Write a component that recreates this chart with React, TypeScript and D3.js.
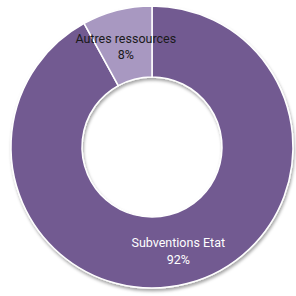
import React from "react";
import * as d3 from "d3";

const categories = ["Subventions Etat", "Autres ressources"];
const values = [92, 8];
const percentLabels = ["92%", "8%"];
const colors = ["#725a91", "#a898c1"];
const labelColors = ["#ffffff", "#1a1a1a"];

export default function App() {
  const width = 296;
  const height = 296;
  const cx = 152;
  const cy = 147;
  const outerRadius = 141;
  const innerRadius = 70;

  const pie = d3
    .pie<number>()
    .value((d) => d)
    .sort(null);
  const arcs = pie(values);
  const arc = d3
    .arc<d3.PieArcDatum<number>>()
    .innerRadius(innerRadius)
    .outerRadius(outerRadius);

  return (
    <svg
      width={width}
      height={height}
      style={{ position: "absolute", left: 0, top: 0 }}
    >
      <defs>
        <filter id="shadow" x="-10%" y="-10%" width="120%" height="120%">
          <feDropShadow
            dx="1"
            dy="2.5"
            stdDeviation="1.5"
            floodColor="#000"
            floodOpacity="0.35"
          />
        </filter>
      </defs>
      <rect width={width} height={height} fill="#fff" />
      <g transform={`translate(${cx},${cy})`}>
        <g filter="url(#shadow)">
          {arcs.map((a, i) => (
            <path
              key={categories[i]}
              d={arc(a) ?? ""}
              fill={colors[i]}
              stroke="#fff"
              strokeWidth={1.5}
            />
          ))}
        </g>
        {arcs.map((a, i) => {
          const [x, y] = arc.centroid(a);
          return (
            <text
              key={categories[i]}
              x={x}
              y={y}
              textAnchor="middle"
              fontFamily="Roboto, 'Open Sans', sans-serif"
              fontSize={12.5}
              fill={labelColors[i]}
            >
              <tspan x={x} dy="-0.15em">
                {categories[i]}
              </tspan>
              <tspan x={x} dy="1.3em">
                {percentLabels[i]}
              </tspan>
            </text>
          );
        })}
      </g>
    </svg>
  );
}
